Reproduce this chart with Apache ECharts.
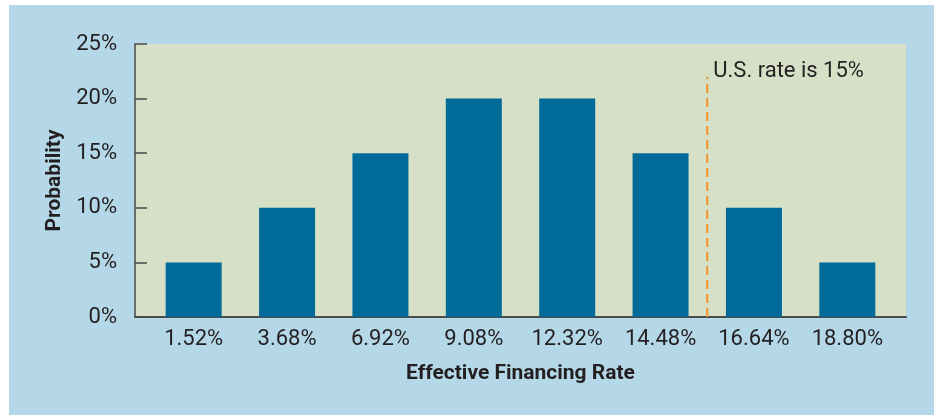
<!DOCTYPE html>
<html>
<head>
<meta charset="utf-8">
<script src="https://cdn.jsdelivr.net/npm/echarts@6/dist/echarts.min.js"></script>
<style>
  html, body { margin: 0; padding: 0; background: #ffffff; }
  #panel { position: absolute; left: 9px; top: 5px; width: 925px; height: 410px; background: #b5d8e8; }
  #chart { position: absolute; left: 0; top: 0; width: 934px; height: 415px; }
</style>
</head>
<body>
<div id="panel"></div>
<div id="chart"></div>
<script>
// Effective financing rate outcomes and their probabilities
const rates = [1.52, 3.68, 6.92, 9.08, 12.32, 14.48, 16.64, 18.80];
const rateLabels = ['1.52%', '3.68%', '6.92%', '9.08%', '12.32%', '14.48%', '16.64%', '18.80%'];
const probabilities = [5, 10, 15, 20, 20, 15, 10, 5];
const yTicks = [0, 5, 10, 15, 20, 25];

// Reference rate marker
const usRate = 15;
const usRateText = 'U.S. rate is 15%';
const markerTop = 22;

// The marker sits on the category boundary just past the U.S. rate
const markerPos = rates.findIndex(r => r > usRate);

const FONT = "Roboto, 'Liberation Sans', sans-serif";
const TEXT = '#231f20';
const AXIS = '#4a4a4a';

const chart = echarts.init(document.getElementById('chart'), null, { renderer: 'canvas' });

chart.setOption({
  animation: false,
  backgroundColor: 'transparent',
  grid: [
    { left: 135, right: 28, top: 44, bottom: 98, show: true, backgroundColor: '#d6e0c6', borderWidth: 0 },
    { left: 147, right: 40, top: 44, bottom: 98 }
  ],
  xAxis: [
    {
      gridIndex: 0, type: 'value', min: 0, max: 1,
      axisLine: { show: true, lineStyle: { color: AXIS, width: 2 } },
      axisTick: { show: false }, axisLabel: { show: false }, splitLine: { show: false },
      name: 'Effective Financing Rate', nameLocation: 'middle', nameGap: 46,
      nameTextStyle: { fontFamily: FONT, fontWeight: 'bold', fontSize: 21, color: TEXT }
    },
    {
      gridIndex: 1, type: 'category', data: rateLabels, boundaryGap: true,
      axisLine: { show: false }, axisTick: { show: false }, splitLine: { show: false },
      axisLabel: { fontFamily: FONT, fontSize: 22, color: TEXT, margin: 11, interval: 0 }
    },
    {
      gridIndex: 1, type: 'value', min: 0, max: rates.length, show: false
    }
  ],
  yAxis: [
    {
      gridIndex: 0, type: 'value', min: yTicks[0], max: yTicks[yTicks.length - 1], interval: 5,
      axisLine: { show: true, lineStyle: { color: AXIS, width: 1.5 } },
      axisTick: { show: true, inside: true, length: 12, lineStyle: { color: AXIS, width: 1.5 } },
      splitLine: { show: false },
      axisLabel: {
        fontFamily: FONT, fontSize: 22, color: TEXT, margin: 18,
        padding: [9, 0, 0, 0],
        formatter: v => v + '%'
      },
      name: 'Probability', nameLocation: 'middle', nameGap: 70, nameRotate: 90,
      nameTextStyle: { fontFamily: FONT, fontWeight: 'bold', fontSize: 21, color: TEXT }
    },
    {
      gridIndex: 1, type: 'value', min: 0, max: 25, show: false
    }
  ],
  series: [
    {
      type: 'bar', xAxisIndex: 1, yAxisIndex: 1,
      data: probabilities, barWidth: 56,
      itemStyle: { color: '#006b99' }
    },
    {
      type: 'line', xAxisIndex: 2, yAxisIndex: 1,
      symbolSize: 0, showSymbol: true,
      lineStyle: { color: '#f5922a', width: 2, type: [9, 5] },
      data: [
        [markerPos, 0],
        {
          value: [markerPos, markerTop],
          label: {
            show: true, position: 'right', distance: 6, offset: [0, -5],
            formatter: usRateText,
            fontFamily: FONT, fontSize: 22, color: TEXT
          }
        }
      ],
      z: 5
    }
  ]
});
</script>
</body>
</html>
